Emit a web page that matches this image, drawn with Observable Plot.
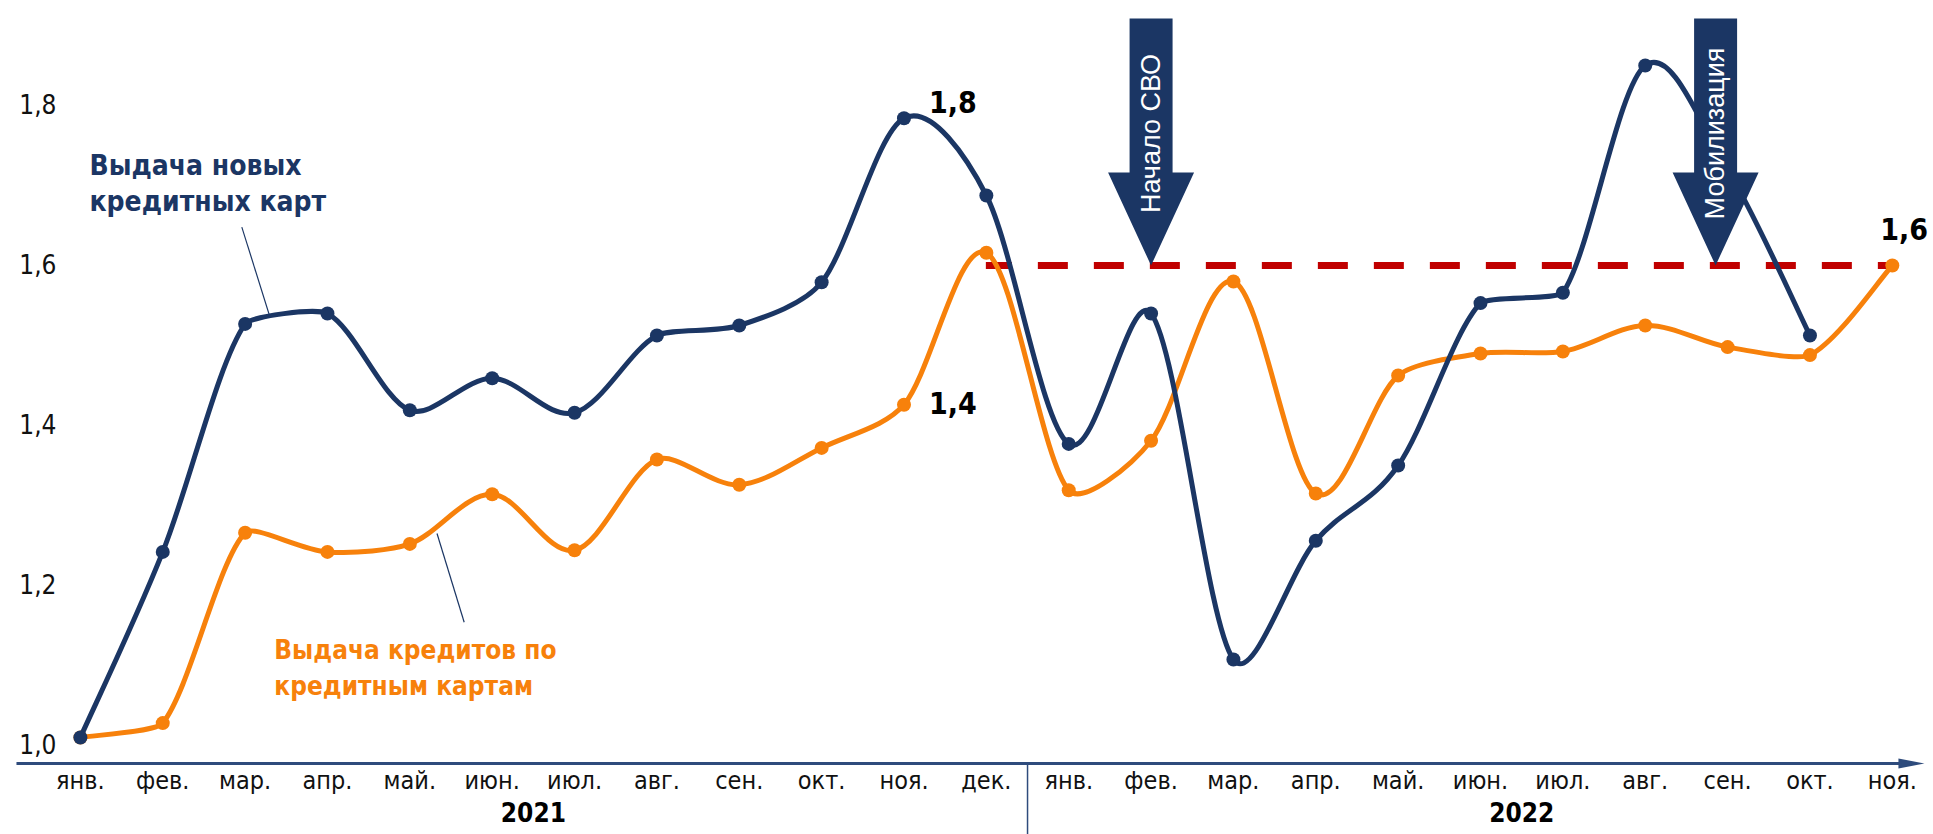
<!DOCTYPE html>
<html>
<head>
<meta charset="utf-8">
<script src="https://cdn.jsdelivr.net/npm/d3@7"></script>
<script src="https://cdn.jsdelivr.net/npm/@observablehq/plot@0.6"></script>
<style>
html, body { margin: 0; padding: 0; background: #fff; }
#chart svg { display: block; }
</style>
</head>
<body>
<div id="chart"></div>
<script>
// ---------- data ----------
const months2021 = ["янв.","фев.","мар.","апр.","май.","июн.","июл.","авг.","сен.","окт.","ноя.","дек."];
const months2022 = ["янв.","фев.","мар.","апр.","май.","июн.","июл.","авг.","сен.","окт.","ноя."];
const monthLabels = months2021.concat(months2022);
const yearSpans = [
  {year: "2021", from: 0, to: 11},
  {year: "2022", from: 12, to: 23}
];
// Выдача новых кредитных карт (янв. 2021 = 1)
const newCards = [1.01, 1.242, 1.527, 1.54, 1.419, 1.459, 1.416, 1.5125, 1.525, 1.579, 1.784, 1.6875,
                  1.377, 1.54, 1.1075, 1.256, 1.35, 1.553, 1.566, 1.85, 1.72, 1.5125, null];
// Выдача кредитов по кредитным картам (янв. 2021 = 1)
const cardLoans = [1.01, 1.028, 1.266, 1.242, 1.252, 1.314, 1.244, 1.3575, 1.326, 1.372, 1.426, 1.616,
                   1.319, 1.381, 1.58, 1.315, 1.4625, 1.49, 1.4925, 1.525, 1.498, 1.488, 1.6];
const yTicks = [1.0, 1.2, 1.4, 1.6, 1.8];
const threshold = 1.6;          // red dashed level
const thresholdFrom = 11;       // from дек. 2021
const thresholdTo = 22;         // to ноя. 2022
const events = [
  {label: "Начало СВО", month: 13, shift: 0},
  {label: "Мобилизация", month: 20, shift: -12}
];
const seriesLabels = [
  {text: "Выдача новых\nкредитных карт", x: 0.11, y: 1.705, key: "new", size: 28},
  {text: "Выдача кредитов по\nкредитным картам", x: 2.354, y: 1.1006, key: "loans", size: 26}
];
const leaders = [
  {x1: 1.96, y1: 1.648, x2: 2.296, y2: 1.5375},
  {x1: 4.33, y1: 1.265, x2: 4.66, y2: 1.154}
];
const valueLabels = [
  {key: "new", month: 10, dx: 25, dy: -15, anchor: "start"},
  {key: "loans", month: 10, dx: 25, dy: 0, anchor: "start"},
  {key: "loans", month: 22, dx: -12, dy: -35, anchor: "start"}
];

// ---------- styles ----------
const NAVY = "#1B3664", ORANGE = "#F7810B", RED = "#C00000", AXIS = "#2E4B7C";
const FONT = "'DejaVu Sans Condensed','DejaVu Sans',sans-serif";
const ARROW_FONT = "'Liberation Sans', Arial, sans-serif";
const yMin = 0.9775, yMax = 1.93125;
const xMin = -0.97, xMax = 22.5;

const series = {new: newCards, loans: cardLoans};
const colors = {new: NAVY, loans: ORANGE};
const rowsOf = key => series[key].map((v, i) => ({i, v})).filter(d => d.v != null);
const newRows = rowsOf("new");
const loanRows = rowsOf("loans");
const fmt = v => v.toFixed(1).replace(".", ",");
const valueRows = valueLabels.map(d => ({...d, v: series[d.key][d.month]}));
const yearRows = yearSpans.map(d => ({...d, center: (d.from + d.to) / 2}));

// Spreadsheet-like smoothing: Catmull-Rom arms shortened next to short segments
function smoothCurve(context) {
  let xs, ys;
  return {
    areaStart() {}, areaEnd() {},
    lineStart() { xs = []; ys = []; },
    point(x, y) { xs.push(+x); ys.push(+y); },
    lineEnd() {
      const n = xs.length;
      if (!n) return;
      context.moveTo(xs[0], ys[0]);
      const K = 0.15;
      const dist = (a, b) => Math.abs(ys[b] - ys[a]) + K * Math.abs(xs[b] - xs[a]);
      for (let i = 0; i < n - 1; i++) {
        const j = i + 1, i0 = Math.max(0, i - 1), i3 = Math.min(n - 1, i + 2);
        let f1 = 1 / 6, f2 = 1 / 6;
        if (i > 0) f1 *= Math.min(1, 2 * dist(i, j) / dist(i0, i));
        if (j < n - 1) f2 *= Math.min(1, 2 * dist(i, j) / dist(j, i3));
        context.bezierCurveTo(
          xs[i] + (xs[j] - xs[i0]) * f1, ys[i] + (ys[j] - ys[i0]) * f1,
          xs[j] - (xs[i3] - xs[i]) * f2, ys[j] - (ys[i3] - ys[i]) * f2,
          xs[j], ys[j]);
      }
    }
  };
}

// block arrow drawn with its tip at the anchor point
const blockArrow = {
  draw(ctx) {
    ctx.moveTo(0, 0);
    ctx.lineTo(-43, -93);
    ctx.lineTo(-21.5, -93);
    ctx.lineTo(-21.5, -247);
    ctx.lineTo(21.5, -247);
    ctx.lineTo(21.5, -93);
    ctx.lineTo(43, -93);
    ctx.closePath();
  }
};
const axisHead = {
  draw(ctx) {
    ctx.moveTo(0, 0);
    ctx.lineTo(-26, -5);
    ctx.lineTo(-26, 5);
    ctx.closePath();
  }
};

const chart = Plot.plot({
  width: 1933,
  height: 834,
  marginTop: 0,
  marginRight: 0,
  marginLeft: 0,
  marginBottom: 71,
  style: {fontFamily: FONT, background: "#fff"},
  x: {domain: [xMin, xMax], axis: null},
  y: {domain: [yMin, yMax], axis: null},
  marks: [
    // threshold
    Plot.ruleY([threshold], {x1: thresholdFrom, x2: thresholdTo, stroke: RED, strokeWidth: 7, strokeDasharray: "30,26", strokeDashoffset: 4}),
    // leader lines
    Plot.link(leaders, {x1: "x1", y1: "y1", x2: "x2", y2: "y2", stroke: NAVY, strokeWidth: 1.2}),
    // series
    Plot.line(loanRows, {x: "i", y: "v", stroke: ORANGE, strokeWidth: 5, curve: smoothCurve}),
    Plot.dot(loanRows, {x: "i", y: "v", fill: ORANGE, r: 7}),
    Plot.line(newRows, {x: "i", y: "v", stroke: NAVY, strokeWidth: 5, curve: smoothCurve}),
    Plot.dot(newRows, {x: "i", y: "v", fill: NAVY, r: 7}),
    // event arrows
    ...events.map(e => Plot.dot([e], {x: "month", y: () => threshold, dx: e.shift, symbol: blockArrow, r: 10, fill: NAVY, stroke: "none"})),
    ...events.map(e => Plot.text([e], {x: "month", y: () => threshold, text: "label", rotate: -90, dx: e.shift, dy: -132,
      fill: "white", fontSize: 27, fontFamily: ARROW_FONT})),
    // value labels
    ...valueRows.map(d => Plot.text([d], {x: "month", y: "v", text: r => fmt(r.v), dx: d.dx, dy: d.dy, textAnchor: d.anchor,
      fontSize: 30, fontWeight: "bold", fill: "#000"})),
    // series labels
    ...seriesLabels.map(d => Plot.text([d], {x: "x", y: "y", text: "text", textAnchor: "start", lineAnchor: "middle",
      lineHeight: 36 / d.size, fontSize: d.size, fontWeight: "bold", fill: colors[d.key]})),
    // x axis line with arrow head
    Plot.ruleY([yMin], {x1: -0.77, x2: 22.1, stroke: AXIS, strokeWidth: 3}),
    Plot.dot([yMin], {x: 22.39, y: d => d, symbol: axisHead, r: 10, fill: AXIS, stroke: "none"}),
    // month labels
    Plot.axisX(d3.range(monthLabels.length), {tickSize: 0, tickPadding: 8, tickFormat: i => monthLabels[i], fontSize: 25, fill: "#111", label: null}),
    // year divider and labels
    Plot.ruleX([11.5], {y1: yMin, y2: yMin - 0.09, stroke: AXIS, strokeWidth: 1.5}),
    Plot.text(yearRows, {x: "center", text: "year", frameAnchor: "bottom", dy: 58, fontSize: 26, fontWeight: "bold", fill: "#000"}),
    // y tick labels
    Plot.axisY(yTicks, {anchor: "left", tickSize: 0, tickPadding: 0, dx: 56, tickFormat: fmt, fontSize: 26, fill: "#111", label: null})
  ]
});
document.getElementById("chart").append(chart);
</script>
</body>
</html>
